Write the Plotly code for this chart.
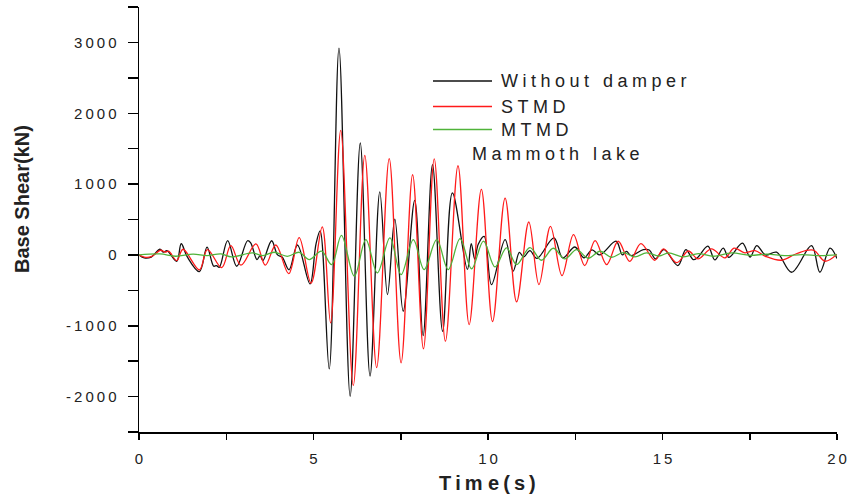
import plotly.graph_objects as go

# ---- data (time in s, base shear in kN) ----
t_wo = [0.0, 0.15, 0.35, 0.60, 0.70, 0.80, 1.08, 1.21, 1.38, 1.73, 1.95, 2.14, 2.22, 2.30, 2.54,
        2.80, 3.11, 3.20, 3.38, 3.47, 3.55, 3.80, 3.97, 4.10, 4.30, 4.54, 4.90, 5.07, 5.19, 5.45,
        5.73, 6.05, 6.34, 6.62, 6.90, 7.12, 7.33, 7.57, 7.90, 8.14, 8.41, 8.70, 8.98, 9.41, 9.52,
        9.62, 9.72, 9.89, 10.10, 10.49, 10.72, 10.90, 11.02, 11.20, 11.40, 11.89, 12.14, 12.49,
        12.75, 12.98, 13.20, 13.67, 13.85, 13.97, 14.10, 14.45, 14.62, 14.80, 15.04, 15.44, 15.67,
        15.88, 16.00, 16.30, 16.50, 16.74, 16.90, 17.29, 17.51, 17.70, 17.95, 18.27, 18.70, 19.27,
        19.51, 19.80, 20.00]
v_wo = [0, -42, -30, 80, 40, 60, -90, 158, -25, -235, 110, -160, -150, -175, 202,
        -160, 200, 170, -65, -10, -80, 200, 0, -30, -210, 140, -410, 150, 340, -1610,
        2920, -1995, 1580, -1710, 890, -560, 505, -795, 770, -1140, 1275, -1080, 875, -205, 160,
        -60, 150, 262, -420, 216, -230, 37, -30, 60, -50, 240, -42, 112,
        -42, 70, 0, 193, 0, 50, -10, 75, 70, -56, 75, -150, 75,
        -66, -40, 125, -70, 95, -35, 165, -30, 132, 0, 38, -245, 131,
        -245, 95, -50]

t_stmd = [0.0, 0.15, 0.35, 0.62, 0.75, 0.85, 1.08, 1.26, 1.73, 1.96, 2.37, 2.63, 2.92, 3.35, 3.62,
          3.92, 4.29, 4.59, 4.93, 5.25, 5.49, 5.78, 6.14, 6.47, 6.81, 7.17, 7.51, 7.84, 8.15, 8.46,
          8.78, 9.14, 9.46, 9.81, 10.13, 10.49, 10.82, 11.17, 11.46, 11.79, 12.12, 12.45, 12.77,
          13.07, 13.40, 13.73, 14.06, 14.38, 14.78, 15.03, 15.41, 15.74, 16.02, 16.40, 16.79,
          17.05, 17.36, 17.65, 17.95, 18.41, 18.85, 19.32, 19.66, 20.00]
v_stmd = [0, -30, -25, 66, 40, 52, -80, 80, -210, 75, -180, 130, -145, 155, -145,
          140, -265, 245, -400, 395, -960, 1757, -1843, 1405, -1590, 1360, -1523, 1132, -1326, 1357,
          -1218, 1259, -983, 925, -940, 803, -663, 465, -419, 404, -292, 286, -151,
          202, -137, 193, -90, 160, -75, 85, -110, 55, -56, 85, -42,
          95, 30, 60, -20, -75, 20, 66, -89, 10]

t_mtmd = [0.0, 0.60, 1.05, 1.55, 1.95, 2.35, 2.65, 3.25, 3.55, 3.87, 4.25, 4.59, 4.88, 5.23, 5.52,
          5.80, 6.17, 6.50, 6.83, 7.19, 7.51, 7.86, 8.17, 8.53, 8.86, 9.20, 9.53, 9.87, 10.20,
          10.53, 10.82, 11.20, 11.53, 11.87, 12.20, 12.54, 12.87, 13.21, 13.54, 13.87, 14.21,
          14.54, 14.90, 15.17, 15.60, 16.03, 16.46, 16.98, 17.50, 18.00, 18.50, 19.00, 19.50, 20.00]
v_mtmd = [0, 14, -19, 10, -10, 15, -28, 28, -10, 38, -20, 37, -66, 52, -137,
          277, -300, 216, -254, 240, -278, 216, -207, 216, -207, 230, -197, 195, -170,
          100, -137, 103, -75, 94, -56, 75, -47, 52, -33, 33, -28,
          30, -15, 28, -28, 19, -19, 28, -5, 10, -10, 5, -10, 0]

series_names = ["Without damper", "STMD", "MTMD"]
series_colors = ["#111111", "#ff1a1a", "#4fb33a"]
x_tick_vals = [0, 5, 10, 15, 20]
y_tick_vals = [-2000, -1000, 0, 1000, 2000, 3000]
record_name = "Mammoth lake"
x_title = "Time(s)"
y_title = "Base Shear(kN)"

FONT = "Liberation Sans, Arial, sans-serif"
THIN = "\u2009"
WIDE = "\u2005"


def spaced(s, sep=THIN):
    return sep.join(list(s))


fig = go.Figure()
for tt, vv, name, col in zip([t_wo, t_stmd, t_mtmd], [v_wo, v_stmd, v_mtmd],
                             series_names, series_colors):
    fig.add_trace(go.Scatter(x=tt, y=vv, mode="lines", name=name,
                             line=dict(color=col, width=1.3, shape="spline", smoothing=1.0),
                             showlegend=False, hoverinfo="skip"))

L, R, T, B = 139, 10, 7, 68
W, H = 847, 500
pw, ph = W - L - R, H - T - B


def px(xp):
    return (xp - L) / pw


def py(yp):
    return (H - B - yp) / ph


axis_common = dict(showline=True, linecolor="black", linewidth=1.5, mirror=False,
                   showgrid=False, zeroline=False, ticks="outside", tickcolor="black",
                   tickwidth=1.5, tickfont=dict(family=FONT, size=15, color="#222"))

fig.update_xaxes(range=[0, 20], tickmode="array", tickvals=x_tick_vals,
                 ticktext=[spaced(str(v)) for v in x_tick_vals], ticklen=6,
                 ticklabelstandoff=6,
                 minor=dict(dtick=2.5, tick0=0, ticks="outside", ticklen=6,
                            tickcolor="black", tickwidth=1.5, showgrid=False),
                 **axis_common)
fig.update_yaxes(range=[-2500, 3500], tickmode="array", tickvals=y_tick_vals,
                 ticktext=[spaced(str(v)) for v in y_tick_vals], ticklen=10,
                 ticklabelstandoff=8,
                 minor=dict(dtick=500, tick0=0, ticks="outside", ticklen=10,
                            tickcolor="black", tickwidth=1.5, showgrid=False),
                 **axis_common)

annotations = [
    dict(text=y_title, x=px(22), y=py(199), xref="paper", yref="paper", showarrow=False,
         textangle=-90, xanchor="center", yanchor="middle",
         font=dict(family=FONT, size=20, color="#222", weight="bold")),
    dict(text="T" + THIN + "i" + THIN + "m" + " " + spaced("e(s)"), x=px(487), y=py(483),
         xref="paper", yref="paper", showarrow=False, xanchor="center", yanchor="middle",
         font=dict(family=FONT, size=20, color="#222", weight="bold")),
]
shapes = []
legend_rows = [81, 106.5, 129.5]
for name, col, yr in zip(series_names, series_colors, legend_rows):
    shapes.append(dict(type="line", xref="paper", yref="paper", x0=px(433), x1=px(492),
                       y0=py(yr), y1=py(yr), line=dict(color=col, width=1.5)))
    annotations.append(dict(text=spaced(name, WIDE), x=px(499), y=py(yr), xref="paper",
                            yref="paper", showarrow=False, xanchor="left", yanchor="middle",
                            font=dict(family=FONT, size=18, color="#222")))
annotations.append(dict(text=spaced(record_name, WIDE), x=px(470), y=py(154), xref="paper",
                        yref="paper", showarrow=False, xanchor="left", yanchor="middle",
                        font=dict(family=FONT, size=18, color="#222")))

fig.update_layout(width=W, height=H, margin=dict(l=L, r=R, t=T, b=B, autoexpand=False),
                  paper_bgcolor="white", plot_bgcolor="white", hovermode=False,
                  annotations=annotations, shapes=shapes, showlegend=False)

fig.write_html("out.html", config={"displayModeBar": False, "staticPlot": True},
               post_script="document.body.style.margin='0';document.body.style.padding='0';")
